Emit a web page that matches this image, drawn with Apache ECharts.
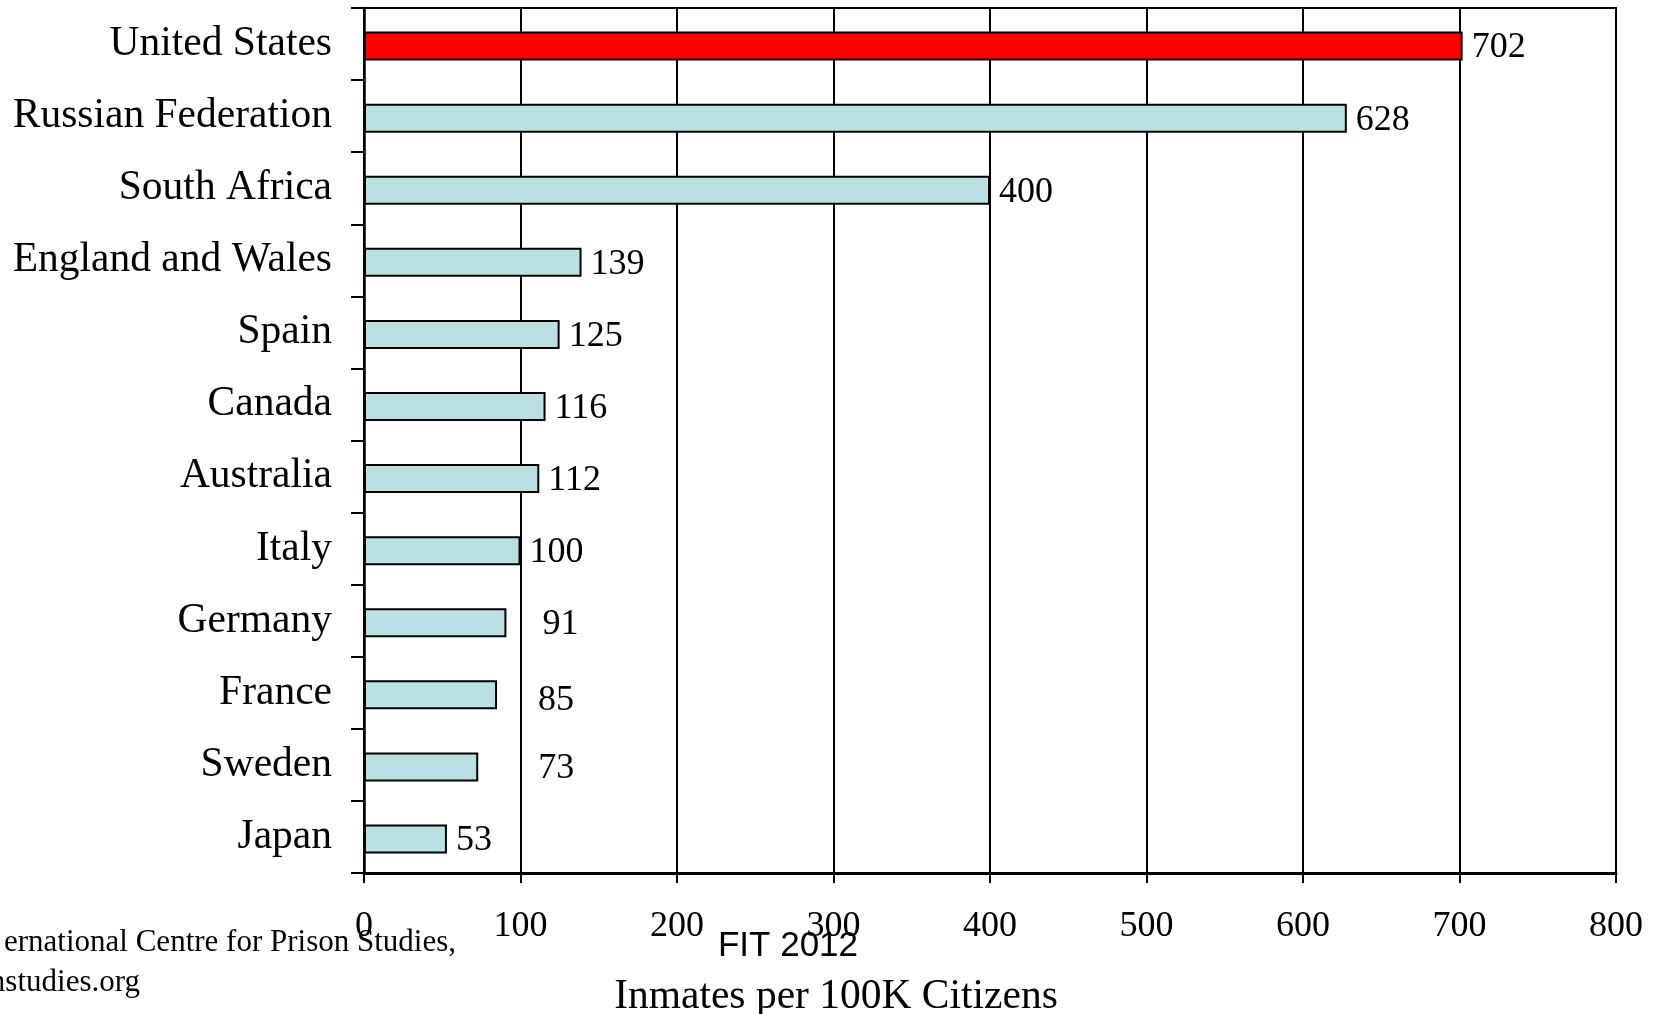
<!DOCTYPE html>
<html>
<head>
<meta charset="utf-8">
<script src="https://cdn.jsdelivr.net/npm/echarts@6/dist/echarts.min.js"></script>
<style>
html,body{margin:0;padding:0;background:#fff;}
#chart{width:1661px;height:1014px;}
</style>
</head>
<body>
<div id="chart"></div>
<script>
const countries = ['United States','Russian Federation','South Africa','England and Wales','Spain','Canada','Australia','Italy','Germany','France','Sweden','Japan'];
const rates = [702, 628, 400, 139, 125, 116, 112, 100, 91, 85, 73, 53];
const xTicks = [0, 100, 200, 300, 400, 500, 600, 700, 800];
const axisTitle = 'Inmates per 100K Citizens';
const watermark = 'FIT 2012';
const sourceLines = ['ernational Centre for Prison Studies,', 'nstudies.org'];

const serif = '"Liberation Serif", "Times New Roman", serif';
const highlightColor = '#ff0000';
const barColor = '#bae0e3';
const labelTweaks = {
  'Germany': {distance: 36},
  'France': {distance: 41, offset: [0, 6]},
  'Sweden': {distance: 60}
};

const data = countries.map((c, i) => {
  const item = {
    value: rates[i],
    itemStyle: {color: c === 'United States' ? highlightColor : barColor}
  };
  if (labelTweaks[c]) item.label = labelTweaks[c];
  return item;
});

const chart = echarts.init(document.getElementById('chart'));
chart.setOption({
  animation: false,
  backgroundColor: '#fff',
  grid: {left: 364, right: 45, top: 8, bottom: 141, show: true, borderColor: '#000', borderWidth: 2, backgroundColor: 'transparent'},
  xAxis: {
    type: 'value',
    min: xTicks[0], max: xTicks[xTicks.length - 1], interval: 100,
    axisLine: {show: true, lineStyle: {color: '#000', width: 3}},
    axisTick: {show: true, length: 10, lineStyle: {color: '#000', width: 2}},
    splitLine: {show: true, lineStyle: {color: '#000', width: 2}},
    axisLabel: {color: '#000', fontFamily: serif, fontSize: 36, margin: 36,
      formatter: v => xTicks.includes(v) ? String(v) : ''}
  },
  yAxis: {
    type: 'category',
    data: countries,
    inverse: true,
    axisLine: {show: true, lineStyle: {color: '#000', width: 2.5}},
    axisTick: {show: true, inside: false, length: 13, interval: 0, lineStyle: {color: '#000', width: 2}},
    axisLabel: {color: '#000', fontFamily: serif, fontSize: 41.5, margin: 32, interval: 0, padding: [8, 0, 0, 0]},
    splitLine: {show: false}
  },
  series: [
    {
      type: 'bar',
      name: 'spacer',
      data: countries.map(() => 0),
      barWidth: 4,
      barGap: '0%',
      silent: true,
      itemStyle: {color: 'rgba(0,0,0,0)', borderWidth: 0},
      label: {show: false}
    },
    {
      type: 'bar',
      name: 'rate',
      data: data,
      barWidth: 29,
      barGap: '0%',
      itemStyle: {borderColor: '#000', borderWidth: 2},
      label: {show: true, position: 'right', distance: 9, offset: [0, 2], color: '#000', fontFamily: serif, fontSize: 36}
    }
  ],
  graphic: [
    {type: 'text', x: 456, y: 943, style: {text: sourceLines[0], fill: '#000', font: '31px ' + serif, textAlign: 'right', textVerticalAlign: 'middle'}},
    {type: 'text', x: 140, y: 983, style: {text: sourceLines[1], fill: '#000', font: '31px ' + serif, textAlign: 'right', textVerticalAlign: 'middle'}},
    {type: 'text', x: 788, y: 946, style: {text: watermark, fill: '#000', font: '35px "Liberation Sans", Arial, sans-serif', textAlign: 'center', textVerticalAlign: 'middle'}},
    {type: 'text', x: 836, y: 997.5, style: {text: axisTitle, fill: '#000', font: '41.5px ' + serif, textAlign: 'center', textVerticalAlign: 'middle'}}
  ]
});
</script>
</body>
</html>
